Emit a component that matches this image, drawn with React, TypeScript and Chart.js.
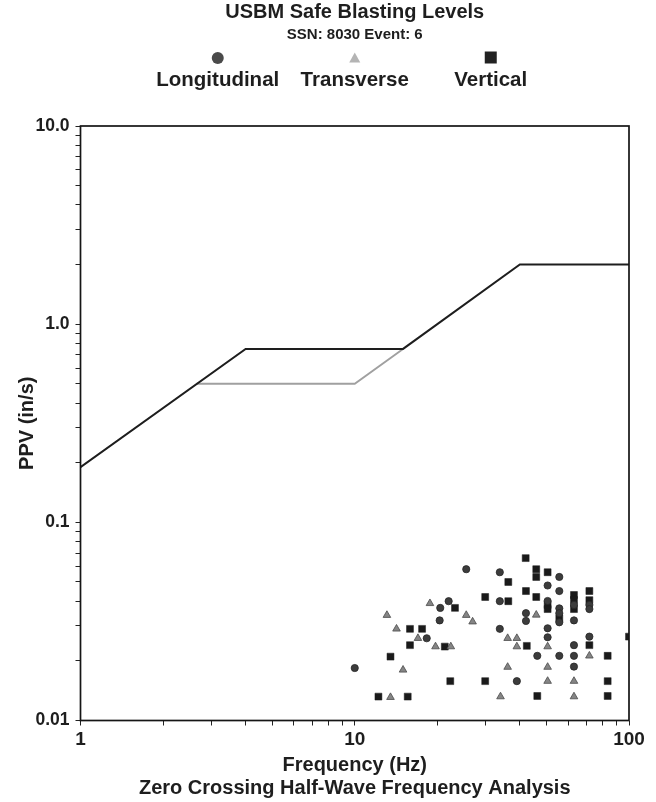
import { useEffect, useRef } from "react";
import { Chart, registerables } from "chart.js";

Chart.register(...registerables);

// ---- Data ----
const LONG_FREQ = [25.5, 22.0, 20.5, 20.4, 18.3, 10.0, 33.8, 55.7, 50.5, 55.7, 33.8, 50.5, 63.0, 71.7, 71.7, 55.7, 55.7, 55.7, 42.1, 42.1, 63.0, 33.8, 50.5, 50.5, 71.7, 63.0, 46.3, 55.7, 63.0, 63.0, 39.0];
const LONG_PPV = [0.058, 0.040, 0.037, 0.032, 0.026, 0.0184, 0.056, 0.053, 0.048, 0.045, 0.040, 0.0401, 0.0383, 0.0383, 0.0365, 0.0368, 0.0348, 0.0313, 0.0348, 0.0318, 0.032, 0.029, 0.0292, 0.0263, 0.0265, 0.024, 0.0212, 0.0212, 0.0212, 0.0187, 0.0158];

const TRANS_FREQ = [18.8, 25.5, 26.9, 13.1, 14.2, 17.0, 19.7, 22.4, 15.0, 13.5, 45.9, 36.1, 39.0, 39.0, 50.5, 71.7, 36.1, 50.5, 50.5, 63.0, 34.0, 63.0];
const TRANS_PPV = [0.039, 0.034, 0.0315, 0.034, 0.029, 0.026, 0.0236, 0.0236, 0.018, 0.0131, 0.0341, 0.026, 0.026, 0.0236, 0.0236, 0.0212, 0.0186, 0.0186, 0.0158, 0.0158, 0.0132, 0.0132];

const VERT_FREQ = [23.2, 15.9, 17.6, 15.9, 21.3, 13.5, 22.3, 12.2, 15.6, 42.0, 45.9, 45.9, 50.5, 36.3, 42.1, 71.7, 29.9, 36.3, 45.9, 50.5, 50.5, 63.0, 63.0, 63.0, 71.7, 55.7, 100, 42.4, 71.7, 83.6, 29.9, 83.6, 46.3, 83.6];
const VERT_PPV = [0.037, 0.029, 0.029, 0.024, 0.0236, 0.021, 0.0158, 0.0132, 0.0132, 0.066, 0.058, 0.053, 0.056, 0.050, 0.045, 0.045, 0.042, 0.040, 0.042, 0.0383, 0.0365, 0.043, 0.0406, 0.0365, 0.0405, 0.0328, 0.0265, 0.0238, 0.024, 0.0212, 0.0158, 0.0158, 0.0133, 0.0133];

// USBM RI 8507 limit curves
const DRYWALL_FREQ = [1, 4, 15, 40, 100];
const DRYWALL_PPV = [0.19, 0.75, 0.75, 2.0, 2.0];
const PLASTER_FREQ = [2.65, 10, 15];
const PLASTER_PPV = [0.5, 0.5, 0.75];

// Axes
const X_DECADES = [1, 10, 100];
const X_TICK_LABELS = ["1", "10", "100"];
const Y_DECADES = [0.01, 0.1, 1, 10];
const Y_TICK_LABELS = ["0.01", "0.1", "1.0", "10.0"];
const MINOR_STEPS = [1, 2, 3, 4, 5, 6, 7, 8, 9];

const SERIES_LABELS = ["Longitudinal", "Transverse", "Vertical"];

const FONT = "'Liberation Sans', Arial, Helvetica, sans-serif";

function logTicks(decades: number[]) {
  const out: number[] = [];
  for (let i = 0; i < decades.length - 1; i++) {
    for (const m of MINOR_STEPS) {
      out.push(m === 1 ? decades[i] : Number((decades[i] * m).toPrecision(6)));
    }
  }
  out.push(decades[decades.length - 1]);
  return out;
}

function pts(xs: number[], ys: number[]) {
  return xs.map((x, i) => ({ x, y: ys[i] }));
}

const framePlugin = {
  id: "frame",
  afterDatasetsDraw(chart: any) {
    const { ctx, chartArea } = chart;
    ctx.save();
    ctx.strokeStyle = "#151515";
    ctx.lineWidth = 1.7;
    ctx.strokeRect(chartArea.left, chartArea.top, chartArea.right - chartArea.left, chartArea.bottom - chartArea.top);
    ctx.restore();
  },
};

const symbolLegendPlugin = {
  id: "symbolLegend",
  afterDraw(chart: any) {
    const { ctx, chartArea } = chart;
    const cx = (chartArea.left + chartArea.right) / 2;
    const offsets = [-137, 0, 136];
    const symY = 58;
    const textY = 80;
    ctx.save();
    for (let i = 0; i < 3; i++) {
      const ds = chart.data.datasets[i];
      const x = cx + offsets[i];
      ctx.fillStyle = ds.legendColor;
      ctx.beginPath();
      if (ds.pointStyle === "circle") {
        ctx.arc(x, symY, 6, 0, Math.PI * 2);
      } else if (ds.pointStyle === "triangle") {
        ctx.moveTo(x, symY - 5.5);
        ctx.lineTo(x + 5.5, symY + 4.5);
        ctx.lineTo(x - 5.5, symY + 4.5);
        ctx.closePath();
      } else {
        ctx.rect(x - 6, symY - 6.5, 12, 12);
      }
      ctx.fill();
      ctx.fillStyle = "#1e1e1e";
      ctx.font = `bold 20.5px ${FONT}`;
      ctx.textAlign = "center";
      ctx.textBaseline = "middle";
      ctx.fillText(ds.label, x, textY);
    }
    ctx.restore();
  },
};

export default function App() {
  const ref = useRef<HTMLCanvasElement>(null);

  useEffect(() => {
    if (!ref.current) return;
    const xTicks = logTicks(X_DECADES);
    const yTicks = logTicks(Y_DECADES);

    const chart = new Chart(ref.current, {
      type: "scatter",
      data: {
        datasets: [
          {
            label: SERIES_LABELS[0],
            data: pts(LONG_FREQ, LONG_PPV),
            pointStyle: "circle",
            pointRadius: 3.6,
            backgroundColor: "#3c3c3c",
            borderColor: "#262626",
            borderWidth: 0.8,
            legendColor: "#4a4a4a",
            clip: 0,
          } as any,
          {
            label: SERIES_LABELS[1],
            data: pts(TRANS_FREQ, TRANS_PPV),
            pointStyle: "triangle",
            pointRadius: 4.4,
            backgroundColor: "#858585",
            borderColor: "#4a4a4a",
            borderWidth: 0.8,
            legendColor: "#b4b4b4",
            clip: 0,
          } as any,
          {
            label: SERIES_LABELS[2],
            data: pts(VERT_FREQ, VERT_PPV),
            pointStyle: "rect",
            pointRadius: 4.9,
            backgroundColor: "#1a1a1a",
            borderColor: "#1a1a1a",
            borderWidth: 0.5,
            legendColor: "#222222",
            clip: 0,
          } as any,
          {
            type: "line",
            label: "Drywall",
            data: pts(DRYWALL_FREQ, DRYWALL_PPV),
            showLine: true,
            borderColor: "#1e1e1e",
            borderWidth: 2,
            pointRadius: 0,
            fill: false,
          } as any,
          {
            type: "line",
            label: "Plaster",
            data: pts(PLASTER_FREQ, PLASTER_PPV),
            showLine: true,
            borderColor: "#a0a0a0",
            borderWidth: 1.9,
            pointRadius: 0,
            fill: false,
          } as any,
        ],
      },
      options: {
        animation: false,
        responsive: true,
        maintainAspectRatio: false,
        devicePixelRatio: 1,
        layout: { padding: { left: 0, right: 27, top: 0, bottom: 0 } },
        plugins: {
          legend: { display: false },
          tooltip: { enabled: false },
          title: {
            display: true,
            fullSize: false,
            text: "USBM Safe Blasting Levels",
            color: "#1e1e1e",
            font: { family: FONT, size: 20, weight: "bold", lineHeight: 1.2 },
            padding: { top: 0.5, bottom: 0 },
          },
          subtitle: {
            display: true,
            fullSize: false,
            text: "SSN: 8030 Event: 6",
            color: "#1e1e1e",
            font: { family: FONT, size: 15, weight: "bold", lineHeight: 1.2 },
            padding: { top: 1.5, bottom: 82 },
          },
        },
        scales: {
          x: {
            type: "logarithmic",
            min: X_DECADES[0],
            max: X_DECADES[X_DECADES.length - 1],
            afterBuildTicks: (scale: any) => {
              scale.ticks = xTicks.map((v) => ({ value: v }));
            },
            afterFit: (scale: any) => {
              scale.height = 81.5;
            },
            ticks: {
              autoSkip: false,
              maxRotation: 0,
              padding: 3,
              color: "#1e1e1e",
              font: { family: FONT, size: 19, weight: "bold" },
              callback: (_v: any, i: number, ticks: any[]) => {
                const k = X_DECADES.indexOf(ticks[i].value);
                return k >= 0 ? X_TICK_LABELS[k] : "";
              },
            },
            grid: { display: true, drawOnChartArea: false, drawTicks: true, tickLength: 5, color: "#222", lineWidth: 1 },
            border: { display: false },
            title: {
              display: true,
              text: ["Frequency (Hz)", "Zero Crossing Half-Wave Frequency Analysis"],
              color: "#1e1e1e",
              font: { family: FONT, size: 20, weight: "bold", lineHeight: 1.15 },
              padding: { top: 0, bottom: 2.5 },
            },
          },
          y: {
            type: "logarithmic",
            min: Y_DECADES[0],
            max: Y_DECADES[Y_DECADES.length - 1],
            afterBuildTicks: (scale: any) => {
              scale.ticks = yTicks.map((v) => ({ value: v }));
            },
            afterFit: (scale: any) => {
              scale.width = 80.5;
            },
            ticks: {
              autoSkip: false,
              padding: 6,
              color: "#1e1e1e",
              font: { family: FONT, size: 17.5, weight: "bold" },
              callback: (_v: any, i: number, ticks: any[]) => {
                const k = Y_DECADES.indexOf(ticks[i].value);
                return k >= 0 ? Y_TICK_LABELS[k] : "";
              },
            },
            grid: { display: true, drawOnChartArea: false, drawTicks: true, tickLength: 5, color: "#222", lineWidth: 1 },
            border: { display: false },
            title: {
              display: true,
              text: "PPV (in/s)",
              color: "#1e1e1e",
              font: { family: FONT, size: 20, weight: "bold", lineHeight: 1.2 },
              padding: { top: 15, bottom: 0 },
            },
          },
        },
      } as any,
      plugins: [framePlugin, symbolLegendPlugin],
    });
    return () => chart.destroy();
  }, []);

  return (
    <div style={{ position: "fixed", left: 0, top: 0, width: 656, height: 802, background: "#fff" }}>
      <canvas ref={ref} style={{ display: "block" }} />
    </div>
  );
}
